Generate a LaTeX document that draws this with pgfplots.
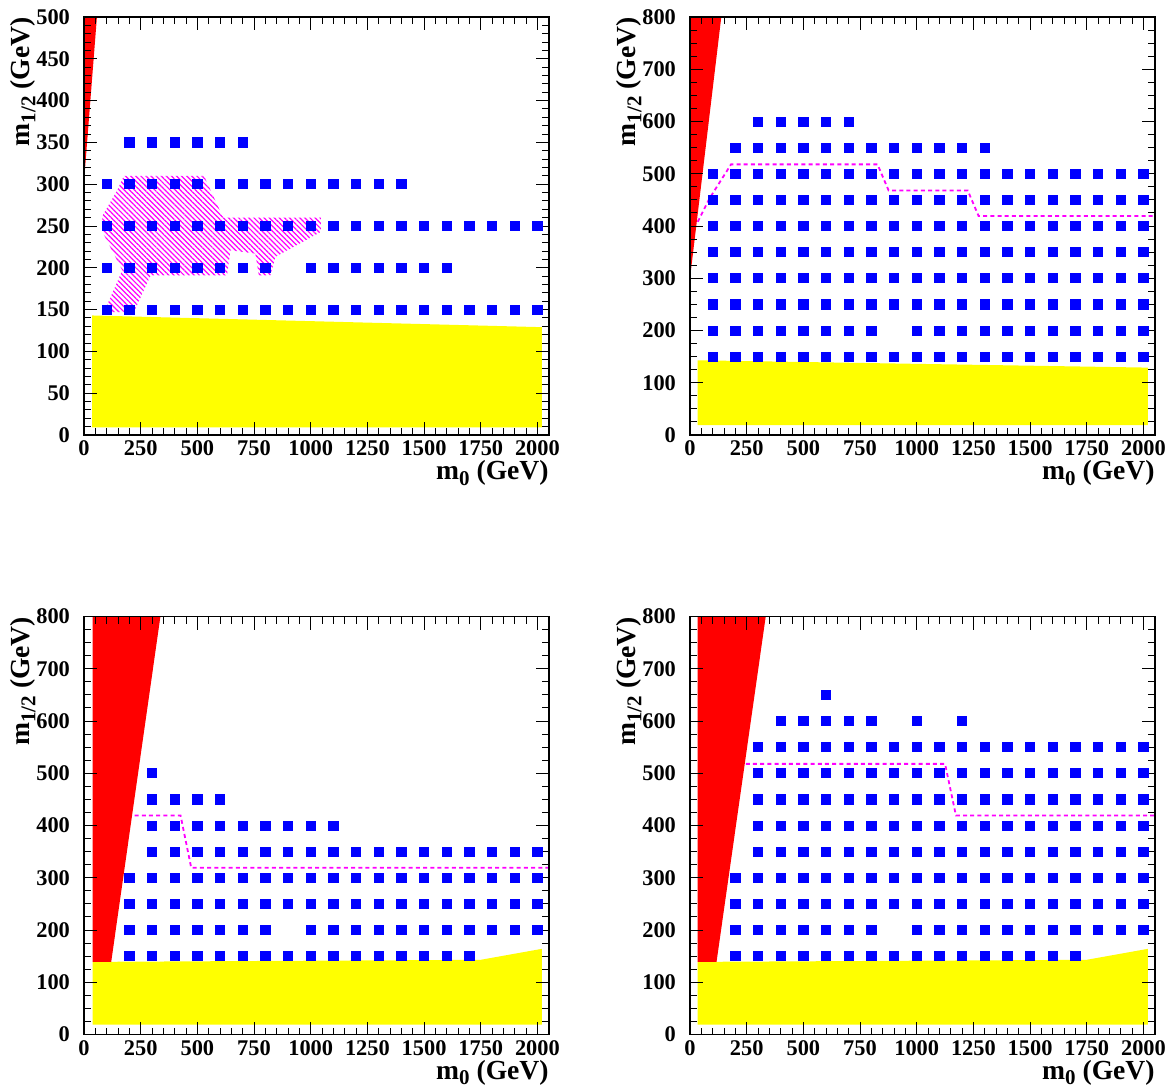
\documentclass[border=0pt]{standalone}
\usepackage{fontspec}
\setmainfont{Liberation Serif}[BoldFont={Liberation Serif Bold}]
\usepackage{pgfplots}
\pgfplotsset{compat=1.18}
\usetikzlibrary{patterns.meta}
\definecolor{rblue}{RGB}{0,0,255}
\definecolor{rmag}{RGB}{255,0,255}
\definecolor{rred}{RGB}{255,0,0}
\definecolor{ryel}{RGB}{255,255,0}
\newcommand{\mhalf}{m\raisebox{-0.45ex}{\fontsize{10.5}{10.5}\selectfont\bfseries 1/2}}
\newcommand{\mzero}{m\raisebox{-0.45ex}{\fontsize{10.5}{10.5}\selectfont\bfseries 0}}
\pgfplotsset{
  susy/.style={
    scale only axis, width=232.5pt, height=209pt,
    xmin=0, xmax=2051, ymin=0,
    xtick={0,250,500,750,1000,1250,1500,1750,2000}, minor x tick num=4,
    tick align=inside, axis on top,
    major tick length=6.5pt, minor tick length=3.5pt,
    every tick/.style={black, line width=0.5pt},
    axis line style={line width=0.8pt},
    ticklabel style={font=\fontsize{11.2}{12}\selectfont\bfseries},
    /pgf/number format/assume math mode=true,
    /pgf/number format/1000 sep={},
    scaled ticks=false,
    yticklabel style={xshift=-3.5pt},
    xticklabel style={yshift=0.5pt},
    every axis y label/.style={at={([xshift=-24pt]rel axis cs:0,1)}, rotate=90, anchor=south east, inner sep=0pt,
      font=\fontsize{13.8}{15}\selectfont\bfseries},
    every axis x label/.style={at={([yshift=-12.5pt]rel axis cs:1,0)}, anchor=north east, inner sep=0pt,
      font=\fontsize{13.8}{15}\selectfont\bfseries},
    xlabel={\mzero\ (GeV)}, ylabel={\mhalf\ (GeV)},
  },
  sq/.style={only marks, mark=square*, mark size=2.3pt, color=rblue, mark options={draw=rblue, fill=rblue}},
  contour/.style={rmag, line width=0.9pt, dash pattern=on 2pt off 1.6pt},
}
\begin{document}
\begin{tikzpicture}
%================ Panel 1 =================
\begin{axis}[susy, name=a1, at={(0pt,0pt)}, anchor=north west,
  ymax=500, ytick={0,50,...,500}, minor y tick num=4]
\addplot[fill=ryel, draw=none] coordinates {(36,9)(36,143)(2020,129)(2020,9)};
\addplot[fill=rred, draw=none] coordinates {(0,303)(0,500)(57,500)};
\addplot[draw=none, pattern={Lines[angle=-45,distance=1.8pt,line width=0.6pt]}, pattern color=rmag]
  coordinates {(176,310)(529,310)(614,260)(1045,260)(1045,243)(844,213)(822,191)(771,191)(756,217)(646,221)(631,191)(294,191)(220,147)(88,147)(169,197)(81,243)(81,262)(147,293)};
\addplot[sq] coordinates {
(200,350)(300,350)(400,350)(500,350)(600,350)(700,350)
(100,300)(200,300)(300,300)(400,300)(500,300)(600,300)(700,300)(800,300)(900,300)(1000,300)(1100,300)(1200,300)(1300,300)(1400,300)
(100,250)(200,250)(300,250)(400,250)(500,250)(600,250)(700,250)(800,250)(900,250)(1000,250)(1100,250)(1200,250)(1300,250)(1400,250)(1500,250)(1600,250)(1700,250)(1800,250)(1900,250)(2000,250)
(100,200)(200,200)(300,200)(400,200)(500,200)(600,200)(700,200)(800,200)(1000,200)(1100,200)(1200,200)(1300,200)(1400,200)(1500,200)(1600,200)
(100,150)(200,150)(300,150)(400,150)(500,150)(600,150)(700,150)(800,150)(900,150)(1000,150)(1100,150)(1200,150)(1300,150)(1400,150)(1500,150)(1600,150)(1700,150)(1800,150)(1900,150)(2000,150)
};
\end{axis}
%================ Panel 2 =================
\begin{axis}[susy, name=a2, at={(303pt,0pt)}, anchor=north west,
  ymax=800, ytick={0,100,...,800}, minor y tick num=3]
\addplot[fill=ryel, draw=none] coordinates {(34,19)(34,143)(2019,129)(2019,19)};
\addplot[fill=rred, draw=none] coordinates {(0,300)(0,800)(138,800)};
\addplot[sq] coordinates {
(300,600)(400,600)(500,600)(600,600)(700,600)
(200,550)(300,550)(400,550)(500,550)(600,550)(700,550)(800,550)(900,550)(1000,550)(1100,550)(1200,550)(1300,550)
(100,500)(200,500)(300,500)(400,500)(500,500)(600,500)(700,500)(800,500)(900,500)(1000,500)(1100,500)(1200,500)(1300,500)(1400,500)(1500,500)(1600,500)(1700,500)(1800,500)(1900,500)(2000,500)
(100,450)(200,450)(300,450)(400,450)(500,450)(600,450)(700,450)(800,450)(900,450)(1000,450)(1100,450)(1200,450)(1300,450)(1400,450)(1500,450)(1600,450)(1700,450)(1800,450)(1900,450)(2000,450)
(100,400)(200,400)(300,400)(400,400)(500,400)(600,400)(700,400)(800,400)(900,400)(1000,400)(1100,400)(1200,400)(1300,400)(1400,400)(1500,400)(1600,400)(1700,400)(1800,400)(1900,400)(2000,400)
(100,350)(200,350)(300,350)(400,350)(500,350)(600,350)(700,350)(800,350)(900,350)(1000,350)(1100,350)(1200,350)(1300,350)(1400,350)(1500,350)(1600,350)(1700,350)(1800,350)(1900,350)(2000,350)
(100,300)(200,300)(300,300)(400,300)(500,300)(600,300)(700,300)(800,300)(900,300)(1000,300)(1100,300)(1200,300)(1300,300)(1400,300)(1500,300)(1600,300)(1700,300)(1800,300)(1900,300)(2000,300)
(100,250)(200,250)(300,250)(400,250)(500,250)(600,250)(700,250)(800,250)(900,250)(1000,250)(1100,250)(1200,250)(1300,250)(1400,250)(1500,250)(1600,250)(1700,250)(1800,250)(1900,250)(2000,250)
(100,200)(200,200)(300,200)(400,200)(500,200)(600,200)(700,200)(800,200)(1000,200)(1100,200)(1200,200)(1300,200)(1400,200)(1500,200)(1600,200)(1700,200)(1800,200)(1900,200)(2000,200)
(100,150)(200,150)(300,150)(400,150)(500,150)(600,150)(700,150)(800,150)(900,150)(1000,150)(1100,150)(1200,150)(1300,150)(1400,150)(1500,150)(1600,150)(1700,150)(1800,150)(1900,150)(2000,150)
};
\addplot[contour] coordinates {(34,408)(85,452)(181,518)(827,518)(876,468)(1225,468)(1273,419)(2051,419)};
\end{axis}
%================ Panel 3 =================
\begin{axis}[susy, name=a3, at={(0pt,-299.75pt)}, anchor=north west,
  ymax=800, ytick={0,100,...,800}, minor y tick num=3]
\addplot[fill=ryel, draw=none] coordinates {(38,19)(38,139)(1750,143)(2020,164)(2020,19)};
\addplot[fill=rred, draw=none] coordinates {(38,139)(38,800)(337,800)(120,139)};
\addplot[sq] coordinates {
(300,500)
(300,450)(400,450)(500,450)(600,450)
(300,400)(400,400)(500,400)(600,400)(700,400)(800,400)(900,400)(1000,400)(1100,400)
(300,350)(400,350)(500,350)(600,350)(700,350)(800,350)(900,350)(1000,350)(1100,350)(1200,350)(1300,350)(1400,350)(1500,350)(1600,350)(1700,350)(1800,350)(1900,350)(2000,350)
(200,300)(300,300)(400,300)(500,300)(600,300)(700,300)(800,300)(900,300)(1000,300)(1100,300)(1200,300)(1300,300)(1400,300)(1500,300)(1600,300)(1700,300)(1800,300)(1900,300)(2000,300)
(200,250)(300,250)(400,250)(500,250)(600,250)(700,250)(800,250)(900,250)(1000,250)(1100,250)(1200,250)(1300,250)(1400,250)(1500,250)(1600,250)(1700,250)(1800,250)(1900,250)(2000,250)
(200,200)(300,200)(400,200)(500,200)(600,200)(700,200)(800,200)(1000,200)(1100,200)(1200,200)(1300,200)(1400,200)(1500,200)(1600,200)(1700,200)(1800,200)(1900,200)(2000,200)
(200,150)(300,150)(400,150)(500,150)(600,150)(700,150)(800,150)(900,150)(1000,150)(1100,150)(1200,150)(1300,150)(1400,150)(1500,150)(1600,150)(1700,150)
};
\addplot[contour] coordinates {(223,419)(426,419)(473,319)(2051,319)};
\end{axis}
%================ Panel 4 =================
\begin{axis}[susy, name=a4, at={(303pt,-299.75pt)}, anchor=north west,
  ymax=800, ytick={0,100,...,800}, minor y tick num=3]
\addplot[fill=ryel, draw=none] coordinates {(34,19)(34,139)(1750,143)(2020,164)(2020,19)};
\addplot[fill=rred, draw=none] coordinates {(34,139)(34,800)(334,800)(117,139)};
\addplot[sq] coordinates {
(600,650)
(400,600)(500,600)(600,600)(700,600)(800,600)(1000,600)(1200,600)
(300,550)(400,550)(500,550)(600,550)(700,550)(800,550)(900,550)(1000,550)(1100,550)(1200,550)(1300,550)(1400,550)(1500,550)(1600,550)(1700,550)(1800,550)(1900,550)(2000,550)
(300,500)(400,500)(500,500)(600,500)(700,500)(800,500)(900,500)(1000,500)(1100,500)(1200,500)(1300,500)(1400,500)(1500,500)(1600,500)(1700,500)(1800,500)(1900,500)(2000,500)
(300,450)(400,450)(500,450)(600,450)(700,450)(800,450)(900,450)(1000,450)(1100,450)(1200,450)(1300,450)(1400,450)(1500,450)(1600,450)(1700,450)(1800,450)(1900,450)(2000,450)
(300,400)(400,400)(500,400)(600,400)(700,400)(800,400)(900,400)(1000,400)(1100,400)(1200,400)(1300,400)(1400,400)(1500,400)(1600,400)(1700,400)(1800,400)(1900,400)(2000,400)
(300,350)(400,350)(500,350)(600,350)(700,350)(800,350)(900,350)(1000,350)(1100,350)(1200,350)(1300,350)(1400,350)(1500,350)(1600,350)(1700,350)(1800,350)(1900,350)(2000,350)
(200,300)(300,300)(400,300)(500,300)(600,300)(700,300)(800,300)(900,300)(1000,300)(1100,300)(1200,300)(1300,300)(1400,300)(1500,300)(1600,300)(1700,300)(1800,300)(1900,300)(2000,300)
(200,250)(300,250)(400,250)(500,250)(600,250)(700,250)(800,250)(900,250)(1000,250)(1100,250)(1200,250)(1300,250)(1400,250)(1500,250)(1600,250)(1700,250)(1800,250)(1900,250)(2000,250)
(200,200)(300,200)(400,200)(500,200)(600,200)(700,200)(800,200)(1000,200)(1100,200)(1200,200)(1300,200)(1400,200)(1500,200)(1600,200)(1700,200)(1800,200)(1900,200)(2000,200)
(200,150)(300,150)(400,150)(500,150)(600,150)(700,150)(800,150)(900,150)(1000,150)(1100,150)(1200,150)(1300,150)(1400,150)(1500,150)(1600,150)(1700,150)
};
\addplot[contour] coordinates {(246,518)(1125,518)(1173,419)(2051,419)};
\end{axis}
\pgfresetboundingbox
\path ([shift={(-42pt,8.5pt)}]a1.north west) rectangle ++(584pt,-544.5pt);
\end{tikzpicture}
\end{document}
